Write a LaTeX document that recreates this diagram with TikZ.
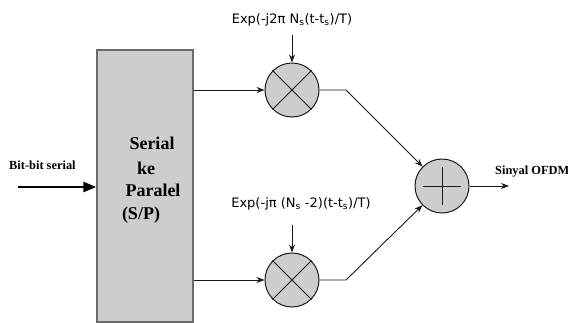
\documentclass[tikz,border=0pt]{standalone}
\usepackage{fontspec}
\setmainfont{Liberation Serif}
\newfontfamily\labfont{DejaVu Sans}
\usetikzlibrary{arrows.meta,calc}
\definecolor{boxgray}{HTML}{CDCDCD}
\definecolor{edgegray}{HTML}{6A6A6A}
\begin{document}
\begin{tikzpicture}[x=1pt,y=-1pt,
  conn/.style={draw=black!90, line width=0.9pt},
  arr/.style={conn, -{Stealth[length=8pt,width=6pt]}},
  bigarr/.style={draw=black, line width=2.6pt, -{Triangle[length=13pt,width=10pt]}},
  mixer/.style={circle, draw=black!90, line width=1pt, fill=boxgray, minimum size=54pt, inner sep=0pt},
  boxtxt/.style={font=\fontsize{18}{20}\selectfont\bfseries, inner sep=0pt},
  sidetxt/.style={font=\fontsize{12.4}{14}\selectfont\bfseries, inner sep=0pt},
  exptxt/.style={font=\labfont\fontsize{13}{15}\selectfont, inner sep=0pt}]
\useasboundingbox (0,0) rectangle (568,322);
\fill[white] (0,0) rectangle (568,322);

% serial-to-parallel block
\node[draw=edgegray, line width=1.5pt, fill=boxgray, minimum width=96pt, minimum height=272pt, inner sep=0pt] (sp) at (145,186) {};
\node[boxtxt] (t1) at (152,143) {Serial};
\node[boxtxt] (t2) at (146,168) {ke};
\node[boxtxt] (t3) at (153,190) {Paralel};
\node[boxtxt] (t4) at (141,215) {(S/P)};

% multipliers and adder
\node[mixer] (m1) at (292,90) {};
\node[mixer] (m2) at (292,280) {};
\node[mixer] (add) at (442,186) {};
\foreach \m in {m1,m2}{
  \draw[conn] (\m.45) -- (\m.225);
  \draw[conn] (\m.135) -- (\m.315);
}
\draw[conn] ($(add)+(-19,0)$) -- ($(add)+(19,0)$);
\draw[conn] ($(add)+(0,-19)$) -- ($(add)+(0,19)$);

% labels
\node[sidetxt, anchor=west] (inlab) at (9,165) {Bit-bit serial};
\node[sidetxt, anchor=west] (outlab) at (495,172) {Sinyal OFDM};
\node[exptxt] (e1) at (292,20) {Exp(-j2π N\textsubscript{s}(t-t\textsubscript{s})/T)};
\node[exptxt] (e2) at (301,204) {Exp(-jπ (N\textsubscript{s} -2)(t-t\textsubscript{s})/T)};

% connector end points
\coordinate (in) at (18,187);
\coordinate (out) at (509,186);
\coordinate (a1) at (292,35);
\coordinate (a2) at (292,225);
\coordinate (c1) at (346,90);
\coordinate (c2) at (346,280);

% connectors
\draw[bigarr] (in) -- (sp.west |- in);
\draw[arr] (sp.east |- m1) -- (m1);
\draw[arr] (sp.east |- m2) -- (m2);
\draw[arr] (a1) -- (m1);
\draw[arr] (a2) -- (m2);
\draw[arr] (m1.east) -- (c1) -- (add);
\draw[arr] (m2.east) -- (c2) -- (add);
\draw[arr] (add) -- (out);
\end{tikzpicture}
\end{document}
